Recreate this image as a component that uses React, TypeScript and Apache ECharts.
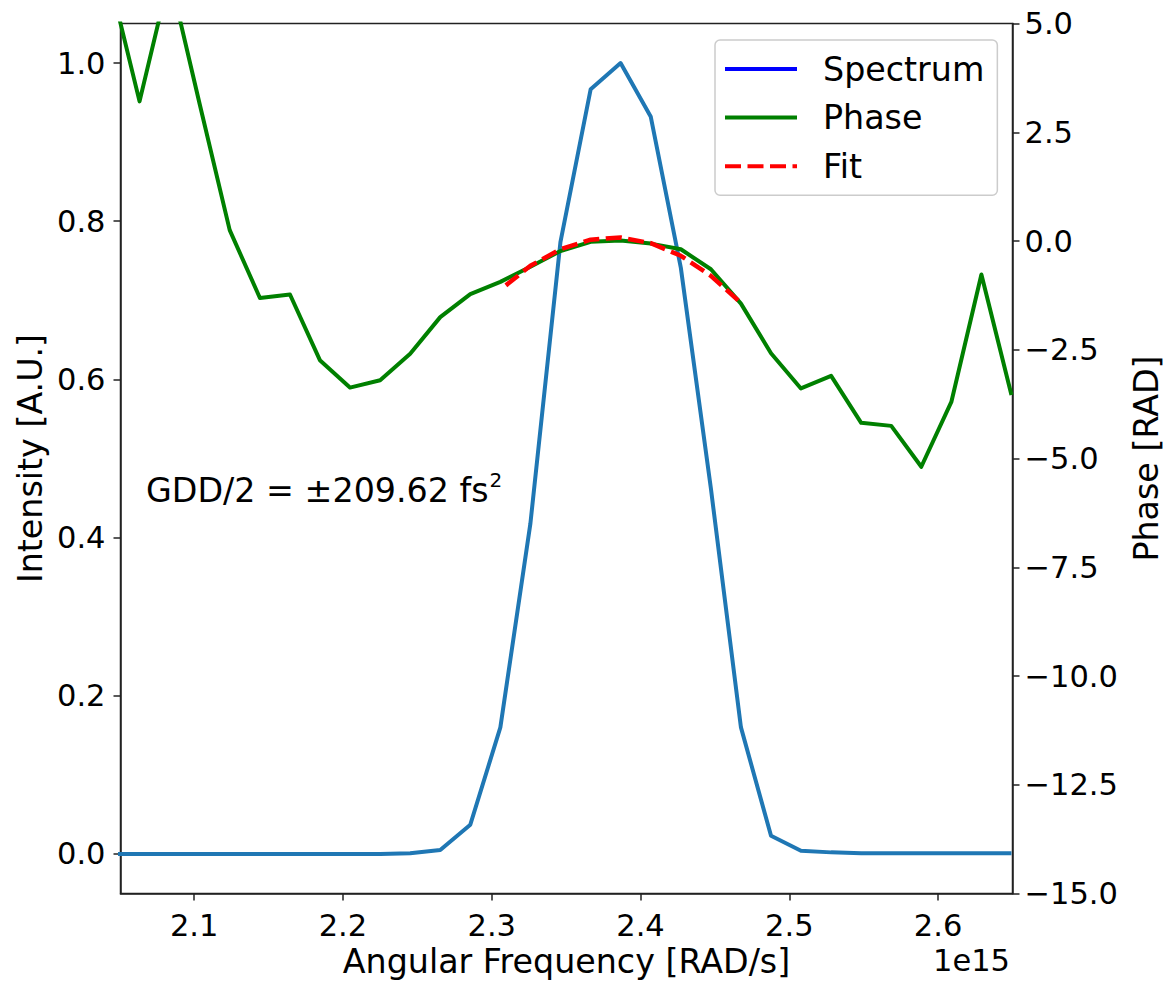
import React, { useEffect, useRef } from 'react';
import * as echarts from 'echarts';

// Angular frequency in units of 1e15 rad/s
const freq = [
  2.0431, 2.0633, 2.0835, 2.1037, 2.1239, 2.1442, 2.1644, 2.1845, 2.2047, 2.2250,
  2.2452, 2.2654, 2.2856, 2.3058, 2.3260, 2.3462, 2.3665, 2.3866, 2.4069, 2.4271,
  2.4473, 2.4675, 2.4877, 2.5078, 2.5281, 2.5483, 2.5685, 2.5887, 2.6089, 2.6291,
  2.6493,
];
const spectrum = [
  0, 0, 0, 0, 0, 0, 0, 0, 0, 0,
  0.001, 0.005, 0.037, 0.160, 0.418, 0.774, 0.967, 1.000, 0.932, 0.741,
  0.462, 0.160, 0.023, 0.004, 0.002, 0.001, 0.001, 0.001, 0.001, 0.001,
  0.001,
];
const phase = [
  6.04, 3.21, 6.10, 3.15, 0.25, -1.31, -1.23, -2.74, -3.37, -3.20,
  -2.59, -1.75, -1.22, -0.94, -0.59, -0.23, -0.02, 0.01, -0.06, -0.19,
  -0.65, -1.44, -2.58, -3.39, -3.10, -4.18, -4.25, -5.19, -3.70, -0.77,
  -3.54,
];
const fitFreq = [2.3095, 2.3260, 2.3462, 2.3665, 2.3866, 2.4069, 2.4271, 2.4473, 2.4667];
const fitPhase = [-1.02, -0.57, -0.19, 0.03, 0.08, -0.05, -0.34, -0.80, -1.40];

const xTicks = [2.1, 2.2, 2.3, 2.4, 2.5, 2.6];
const yLeftTicks = [0, 0.2, 0.4, 0.6, 0.8, 1.0];
const legendNames = ['Spectrum', 'Phase', 'Fit'];
const annotation = 'GDD/2 = ±209.62 fs';

export default function App() {
  const ref = useRef<HTMLDivElement>(null);
  useEffect(() => {
    const chart = echarts.init(ref.current!, null, { renderer: 'svg' });
    const FONT = 'DejaVu Sans';
    const AX = '#222';
    const tickFmt = (v: number) => v.toFixed(1).replace('-', '\u2212');
    const option: any = {
      animation: false,
      backgroundColor: '#fff',
      grid: {
        left: 120.5, right: 155.5, top: 23.5, bottom: 88.5,
        show: true, borderColor: AX, borderWidth: 1.5, backgroundColor: 'transparent',
      },
      xAxis: {
        type: 'value', min: 2.0505, max: 2.65,
        axisLine: { show: true, onZero: false, lineStyle: { color: AX, width: 1.5 } },
        axisTick: { show: true, length: 7, customValues: xTicks, lineStyle: { color: AX, width: 1.5 } },
        axisLabel: {
          customValues: xTicks, formatter: tickFmt, fontSize: 30.5, color: '#000',
          fontFamily: FONT, margin: 16,
        },
        splitLine: { show: false },
      },
      yAxis: [
        {
          type: 'value', min: -0.05, max: 1.05, position: 'left',
          axisLine: { show: true, onZero: false, lineStyle: { color: AX, width: 1.5 } },
          axisTick: { show: true, length: 7, customValues: yLeftTicks, lineStyle: { color: AX, width: 1.5 } },
          axisLabel: {
            customValues: yLeftTicks, formatter: tickFmt, fontSize: 30.5, color: '#000',
            fontFamily: FONT, margin: 15,
          },
          splitLine: { show: false },
        },
        {
          type: 'value', min: -15, max: 5, interval: 2.5, position: 'right',
          axisLine: { show: true, onZero: false, lineStyle: { color: AX, width: 1.5 } },
          axisTick: { show: true, length: 7, lineStyle: { color: AX, width: 1.5 } },
          axisLabel: {
            formatter: tickFmt, fontSize: 30.5, color: '#000', fontFamily: FONT, margin: 12,
          },
          splitLine: { show: false },
        },
      ],
      legend: {
        orient: 'vertical', left: 715, top: 40,
        padding: [10, 13, 10, 10],
        itemWidth: 72, itemHeight: 4, itemGap: 10.6,
        selectedMode: false,
        backgroundColor: 'rgba(255,255,255,0.8)',
        borderColor: '#cccccc', borderWidth: 1.5, borderRadius: 5,
        textStyle: {
          fontSize: 33.3, fontFamily: FONT, color: '#000',
          lineHeight: 38, padding: [0, 0, 0, 21],
        },
        data: [
          { name: legendNames[0], icon: 'rect', itemStyle: { color: '#0000ff' } },
          { name: legendNames[1], icon: 'rect', itemStyle: { color: '#008000' } },
          {
            name: legendNames[2],
            icon: 'path://M0,0h16v4h-16zM22.5,0h16v4h-16zM45,0h16v4h-16zM67.5,0h4.5v4h-4.5z',
            itemStyle: { color: '#ff0000' },
          },
        ],
      },
      series: [
        {
          name: legendNames[0], type: 'line', xAxisIndex: 0, yAxisIndex: 0,
          data: freq.map((f, i) => [f, spectrum[i]]),
          symbol: 'none', z: 2,
          lineStyle: { color: '#1f77b4', width: 4, join: 'round' },
          itemStyle: { color: '#1f77b4' },
        },
        {
          name: legendNames[1], type: 'line', xAxisIndex: 0, yAxisIndex: 1,
          data: freq.map((f, i) => [f, phase[i]]),
          symbol: 'none', z: 3,
          lineStyle: { color: '#008000', width: 4, join: 'round' },
          itemStyle: { color: '#008000' },
        },
        {
          name: legendNames[2], type: 'line', xAxisIndex: 0, yAxisIndex: 1,
          data: fitFreq.map((f, i) => [f, fitPhase[i]]),
          symbol: 'none', z: 4,
          lineStyle: { color: '#ff0000', width: 4.5, type: [16, 6.5], join: 'round' },
          itemStyle: { color: '#ff0000' },
        },
      ],
      graphic: [
        {
          type: 'text', x: 30, y: 458.5, rotation: Math.PI / 2,
          style: {
            text: 'Intensity [A.U.]', fontSize: 33.3, fontFamily: FONT, fill: '#000',
            align: 'center', verticalAlign: 'middle',
          },
        },
        {
          type: 'text', x: 1146, y: 458.5, rotation: Math.PI / 2,
          style: {
            text: 'Phase [RAD]', fontSize: 33.3, fontFamily: FONT, fill: '#000',
            align: 'center', verticalAlign: 'middle',
          },
        },
        {
          type: 'text', x: 566.5, y: 961,
          style: {
            text: 'Angular Frequency [RAD/s]', fontSize: 33.3, fontFamily: FONT, fill: '#000',
            align: 'center', verticalAlign: 'middle',
          },
        },
        {
          type: 'text', x: 1010, y: 960,
          style: {
            text: '1e15', fontSize: 30.5, fontFamily: FONT, fill: '#000',
            align: 'right', verticalAlign: 'middle',
          },
        },
        {
          type: 'text', x: 146, y: 490,
          style: {
            text: annotation, fontSize: 33.3, fontFamily: FONT, fill: '#000',
            align: 'left', verticalAlign: 'middle',
          },
        },
        {
          type: 'text', x: 489.5, y: 480,
          style: {
            text: '2', fontSize: 20, fontFamily: FONT, fill: '#000',
            align: 'left', verticalAlign: 'middle',
          },
        },
      ],
    };
    chart.setOption(option);
    return () => chart.dispose();
  }, []);
  return (
    <div
      ref={ref}
      style={{ position: 'fixed', left: 0, top: 0, width: 1168, height: 982, background: '#fff' }}
    />
  );
}
